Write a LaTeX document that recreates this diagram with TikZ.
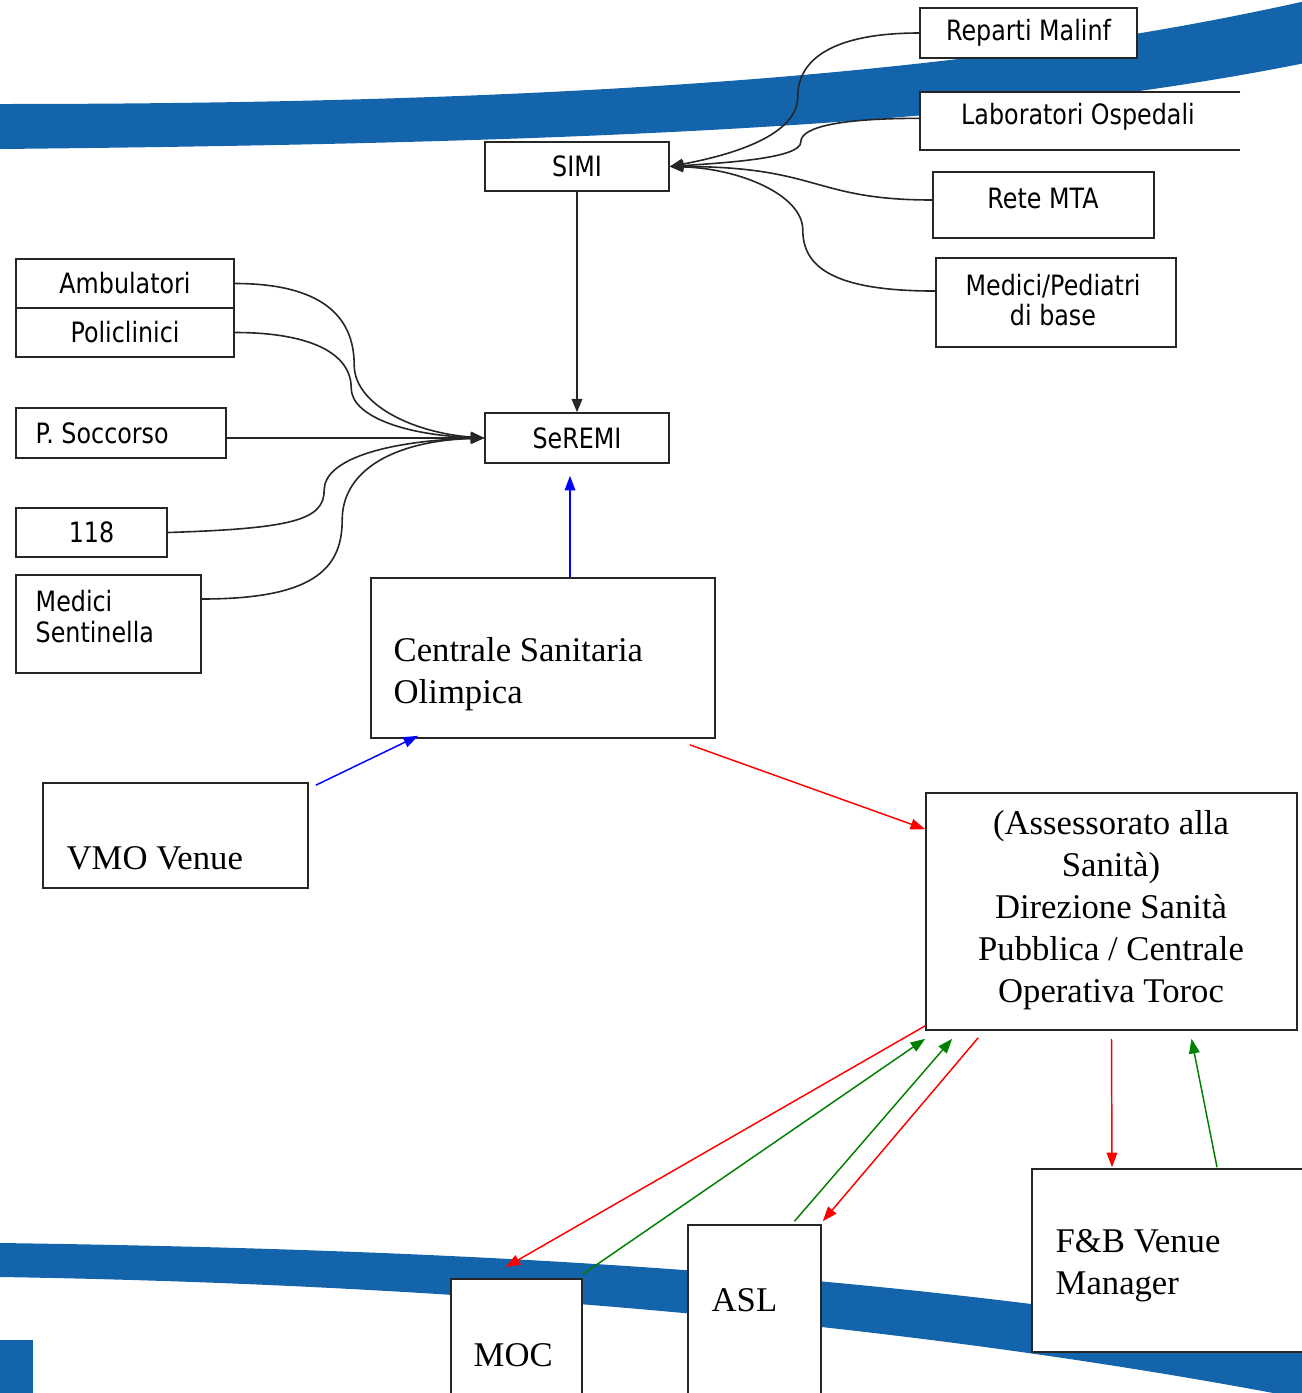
\documentclass[tikz,border=0pt]{standalone}
\usepackage{fontspec}
\setmainfont{Liberation Serif}
\newfontfamily\sfw{DejaVu Sans}[FakeStretch=0.85]
\usetikzlibrary{arrows.meta,calc}
\definecolor{band}{RGB}{20,100,172}
\definecolor{dgreen}{RGB}{0,128,0}
\begin{document}
\begin{tikzpicture}[x=0.75pt,y=-0.75pt,
  bx/.style 2 args={draw=black!85, line width=1.2pt, fill=white,
    minimum width=#1*0.75pt, minimum height=#2*0.75pt, inner sep=0pt},
  sft/.style={font=\sfw\fontsize{21}{24}\selectfont},
  srf/.style={font=\fontsize{26}{31.5}\selectfont},
  ka/.style={-{Triangle[length=10pt,width=8pt]}, line width=1.2pt, draw=black!85},
  ca/.style={-{Triangle[length=11pt,width=8pt]}, line width=1.1pt},
  rd/.style={ca, draw=red, fill=red},
  gr/.style={ca, draw=dgreen, fill=dgreen},
  bl/.style={ca, draw=blue, fill=blue}]
\useasboundingbox (0,0) rectangle (1302,1393);
\clip (0,0) rectangle (1302,1393);
% background bands
\fill[band] (0,104) .. controls (600,104) and (1000,70) .. (1310,0)
  -- (1310,62) .. controls (1000,125) and (600,143) .. (0,149) -- cycle;
\fill[band] (0,1243) .. controls (500,1250) and (900,1275) .. (1310,1345)
  -- (1310,1400) .. controls (950,1330) and (500,1285) .. (0,1277) -- cycle;
\fill[band] (0,1340) rectangle (33,1400);

% upper right boxes
\node[bx={217}{50}, sft] (rep) at (1028.5,33) {Reparti Malinf};
\node[fill=white, minimum width=320*0.75pt, minimum height=58*0.75pt, inner sep=0pt] (lab) at (1080,121) {};
\draw[draw=black!85, line width=1.2pt] (lab.north east) -- (lab.north west) -- (lab.south west) -- (lab.south east);
\node[sft] (labt) at (1078,117) {Laboratori Ospedali};
\node[bx={221}{66}] (mta) at (1043.5,205) {};
\node[sft] (mtat) at (1043,198) {Rete MTA};
\node[bx={240}{89}] (med) at (1056,302.5) {};
\node[sft, align=center] (medt) at (1053,300) {Medici/Pediatri\\[-2pt]di base};

% SIMI / SeREMI
\node[bx={184}{49}, sft] (simi) at (577,166.5) {SIMI};
\node[bx={184}{50}, sft] (seremi) at (577,438) {SeREMI};

% left boxes
\node[bx={218}{49}, sft] (amb) at (125,283.5) {Ambulatori};
\node[bx={218}{49}, sft] (pol) at (125,332.5) {Policlinici};
\node[bx={210}{50}] (ps) at (121,433) {};
\node[sft, anchor=west] (pst) at (31,433) {P. Soccorso};
\node[bx={151}{49}, sft] (n118) at (91.5,532.5) {118};
\node[bx={185}{98}] (ms) at (108.5,624) {};
\node[sft, anchor=west, align=left] (mst) at (31,616.5) {Medici\\[-1pt]Sentinella};

% lower boxes
\node[bx={344}{160}] (cso) at (543,658) {};
\node[srf, anchor=west, align=left] (csot) at (389,674) {Centrale Sanitaria\\Olimpica};
\node[bx={265}{105}] (vmo) at (175.5,835.5) {};
\node[srf, anchor=west] (vmot) at (62,858) {VMO Venue};
\node[bx={371}{237}] (ass) at (1111.5,911.5) {};
\node[srf, align=center] (asst) at (1111,910.5) {(Assessorato alla\\Sanità)\\Direzione Sanità\\Pubblica / Centrale\\Operativa Toroc};
\node[bx={131}{121}] (moc) at (516.5,1339.5) {};
\node[srf, anchor=west] (moct) at (469,1355) {MOC};
\node[bx={133}{175}] (asl) at (754.5,1312.5) {};
\node[srf, anchor=west] (aslt) at (707,1300) {ASL};
\node[bx={278}{183}] (fb) at (1171,1260.5) {};
\node[srf, anchor=west, align=left] (fbt) at (1051,1265.5) {F\&B Venue\\Manager};

% connectors into SIMI
\draw[ka] (rep.west) .. controls +(-85,0) and +(0,-38) .. ($(simi.east)+(128,-70)$)
  .. controls +(0,35) and +(75,-14) .. (simi.east);
\draw[ka] ([yshift=2pt]lab.west) .. controls +(-75,0) and +(0,-16) .. ($(simi.east)+(131,-24.5)$)
  .. controls +(0,16) and +(60,-4) .. (simi.east);
\draw[ka] ([yshift=3.75pt]mta.west) .. controls +(-120,0) and +(150,0) .. (simi.east);
\draw[ka] ([yshift=8.6pt]med.west) .. controls +(-100,0) and +(0,38) .. ($(simi.east)+(133,63.5)$)
  .. controls +(0,-35) and +(70,2) .. (simi.east);

% connectors into SeREMI
\draw[ka] (amb.east) .. controls +(85,0) and +(0,-50) .. ($(seremi.west)+(-130,-73)$)
  .. controls +(0,40) and +(-70,-5) .. (seremi.west);
\draw[ka] (pol.east) .. controls +(75,0) and +(0,-35) .. ($(seremi.west)+(-133,-50)$)
  .. controls +(0,28) and +(-80,-3) .. (seremi.west);
\draw[ka] (ps.east |- seremi.west) -- (seremi.west);
\draw[ka] (n118.east) .. controls +(125,-4) and +(0,30) .. ($(seremi.west)+(-160,52)$)
  .. controls +(0,-30) and +(-100,3) .. (seremi.west);
\draw[ka] ([yshift=18.75pt]ms.east) .. controls +(110,0) and +(0,50) .. ($(seremi.west)+(-142,82)$)
  .. controls +(0,-50) and +(-90,3) .. (seremi.west);
\draw[ka] (simi.south) -- (seremi.north);

% coloured arrows
\coordinate (bt) at ($(seremi.south)+(-7,12)$);
\draw[bl] (bt |- cso.north) -- (bt);
\draw[bl] ($(vmo.north east)+(7,3)$) -- ($(cso.south west)+(48,-3)$);
\draw[rd] ($(cso.south east)+(-26,6)$) -- ($(ass.north west)+(0,37)$);
\draw[rd] ($(ass.south west)+(0,-5)$) -- ($(moc.north)+(-11,-11)$);
\draw[gr] ($(moc.north east)+(0,-4)$) -- ($(ass.south west)+(0,8)$);
\draw[gr] ($(asl.north)+(40,-3)$) -- ($(ass.south west)+(27,8)$);
\draw[rd] ($(ass.south west)+(53,7)$) -- ($(asl.north east)+(1,-3)$);
\draw[rd] ($(ass.south)+(0,8)$) -- ($(fb.north)+(-59,-1)$);
\draw[gr] ($(fb.north)+(46,-1)$) -- ($(ass.south)+(80,8)$);
\end{tikzpicture}
\end{document}
